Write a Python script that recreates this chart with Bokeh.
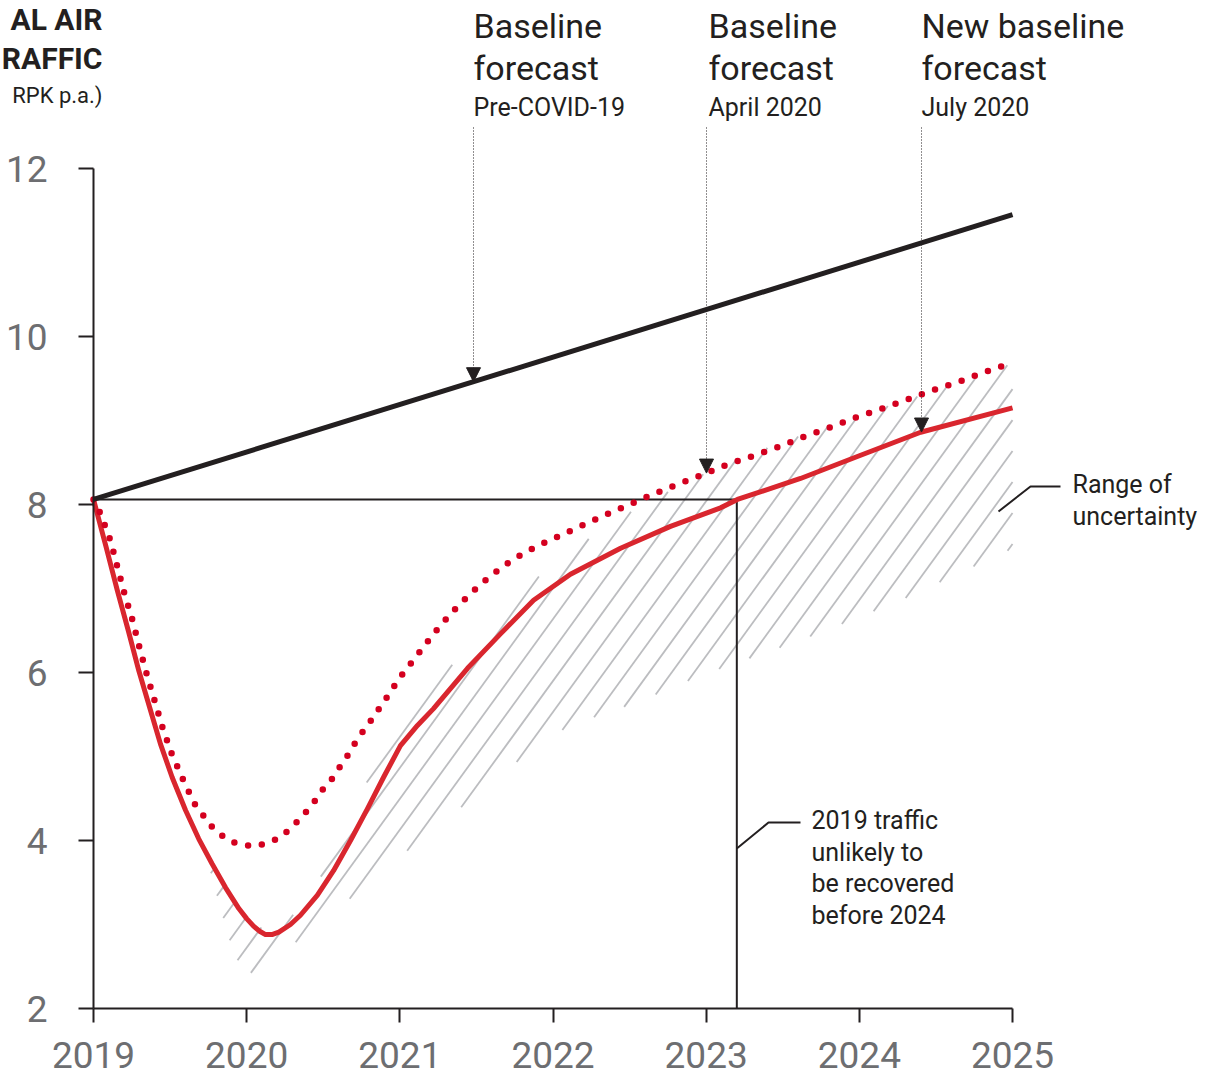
import numpy as np
from bokeh.plotting import figure
from bokeh.models import Label, Arrow, NormalHead, FixedTicker
from bokeh.embed import file_html
from bokeh.resources import INLINE

# ---------------- data ----------------
year_ticks = [2019, 2020, 2021, 2022, 2023, 2024, 2025]
value_ticks = [2, 4, 6, 8, 10, 12]

# Baseline forecast pre-COVID-19 (bn RPK p.a.)
pre_covid_year = [2019.0, 2025.0]
pre_covid_val = [8.06, 11.45]

# Baseline forecast April 2020 (dotted)
april_year = [2019.000, 2019.046, 2019.111, 2019.157, 2019.202, 2019.255, 2019.300,
              2019.346, 2019.398, 2019.450, 2019.509, 2019.581, 2019.659, 2019.712,
              2019.764, 2019.829, 2019.907, 2020.038, 2020.116, 2020.201, 2020.273,
              2020.338, 2020.397, 2020.449, 2020.502, 2020.560, 2020.606, 2020.658,
              2020.704, 2020.756, 2020.808, 2020.906, 2021.004, 2021.115, 2021.220,
              2021.337, 2021.461, 2021.592, 2021.742, 2021.892, 2022.010, 2022.166,
              2022.323, 2022.486, 2022.650, 2022.813, 2022.983, 2023.146, 2023.309,
              2023.479, 2023.642, 2023.812, 2023.981, 2024.145, 2024.314, 2024.478,
              2024.647, 2024.811, 2025.000]
april_val = [8.06, 7.89, 7.57, 7.25, 6.94, 6.62, 6.30,
             5.99, 5.67, 5.35, 5.04, 4.74, 4.44, 4.31,
             4.18, 4.07, 3.98, 3.93, 3.96, 4.02, 4.12,
             4.24, 4.36, 4.48, 4.62, 4.74, 4.87, 5.01,
             5.15, 5.29, 5.42, 5.68, 5.95, 6.21, 6.46,
             6.71, 6.94, 7.15, 7.35, 7.50, 7.60, 7.73,
             7.86, 7.99, 8.12, 8.24, 8.36, 8.48, 8.58,
             8.69, 8.81, 8.92, 9.04, 9.14, 9.25, 9.36,
             9.46, 9.57, 9.69]

# New baseline forecast July 2020 (solid red)
july_year = [2019.000, 2019.083, 2019.155, 2019.227, 2019.296, 2019.372, 2019.437,
             2019.514, 2019.601, 2019.687, 2019.775, 2019.862, 2019.949, 2020.000,
             2020.045, 2020.085, 2020.123, 2020.165, 2020.210, 2020.286, 2020.351,
             2020.462, 2020.567, 2020.678, 2020.789, 2020.893, 2021.004, 2021.115,
             2021.220, 2021.442, 2021.657, 2021.873, 2022.114, 2022.441, 2022.767,
             2023.094, 2023.204, 2023.616, 2024.000, 2024.400, 2025.000]
july_val = [8.06, 7.49, 6.98, 6.50, 6.02, 5.55, 5.15,
            4.75, 4.36, 4.02, 3.72, 3.44, 3.19, 3.07,
            2.98, 2.92, 2.88, 2.88, 2.91, 3.00, 3.11,
            3.35, 3.64, 4.00, 4.38, 4.75, 5.13, 5.37,
            5.57, 6.05, 6.46, 6.86, 7.17, 7.48, 7.74,
            7.96, 8.06, 8.31, 8.58, 8.86, 9.15]

# Range of uncertainty
unc_upper_year = [2019.777, 2019.960, 2020.123, 2020.351, 2020.567, 2020.828, 2021.089,
                  2021.481, 2021.853, 2022.095, 2022.571, 2023.002, 2023.485, 2023.994,
                  2024.497, 2025.0]
unc_upper_val = [3.667, 3.143, 2.929, 3.167, 3.821, 4.869, 5.631,
                 6.345, 7.060, 7.429, 7.988, 8.381, 8.738, 9.060,
                 9.357, 9.68]
unc_lower_year = [2019.764, 2019.881, 2019.979, 2020.136, 2020.384, 2020.645, 2020.906,
                  2021.154, 2021.416, 2021.677, 2021.938, 2022.114, 2022.454, 2022.787,
                  2022.963, 2023.616, 2024.269, 2025.0]
unc_lower_val = [3.619, 2.845, 2.393, 2.488, 2.893, 3.262, 3.667,
                 4.036, 4.417, 4.810, 5.190, 5.369, 5.583, 5.821,
                 5.964, 6.381, 6.857, 7.476]

level_2019 = 8.06
recovery_year = 2023.2

# ---------------- geometry ----------------
W, H = 1208, 1077
PX0, XS = 93.0, 153.17   # canvas px of 2019, px per year
PY0, YS = 1008.0, 84.0   # canvas px of value 2, px per unit


def dx(px):
    return 2019 + (px - PX0) / XS


def dy(py):
    return 2 + (PY0 - py) / YS


INK = "#231f20"
GRAY = "#6d6e71"
RED = "#d9262e"
RED_DOT = "#d4001f"
HATCH = "#bcbdc0"
FONT = "Roboto"

p = figure(width=W, height=H, output_backend="svg", toolbar_location=None,
           x_range=(dx(0), dx(W)), y_range=(dy(H), dy(0)),
           min_border=0, min_border_left=0, min_border_right=0,
           min_border_top=0, min_border_bottom=0)
p.outline_line_color = None
p.grid.visible = False
p.background_fill_color = "white"
p.border_fill_color = "white"

# axes
xa = p.xaxis[0]
xa.fixed_location = 2
xa.bounds = (2019, 2025)
xa.ticker = FixedTicker(ticks=year_ticks)
xa.major_tick_out = 14
xa.major_tick_in = 0
xa.minor_tick_line_color = None
xa.axis_line_width = 2
xa.axis_line_color = INK
xa.major_tick_line_width = 2
xa.major_tick_line_color = INK
xa.major_label_text_font = FONT
xa.major_label_text_font_size = "37px"
xa.major_label_text_color = GRAY
xa.major_label_standoff = 19

ya = p.yaxis[0]
ya.fixed_location = 2019
ya.bounds = (2, 12)
ya.ticker = FixedTicker(ticks=value_ticks)
ya.major_tick_out = 15
ya.major_tick_in = 0
ya.minor_tick_line_color = None
ya.axis_line_width = 2
ya.axis_line_color = INK
ya.major_tick_line_width = 2
ya.major_tick_line_color = INK
ya.major_label_text_font = FONT
ya.major_label_text_font_size = "37px"
ya.major_label_text_color = GRAY
ya.major_label_standoff = 31

# hatch of the range of uncertainty
slope = np.tan(np.radians(54)) * XS / YS
spacing = 22.5 / XS
xs_s = np.linspace(min(unc_lower_year[0], unc_upper_year[0]), 2025.0, 6000)
up = np.interp(xs_s, unc_upper_year, unc_upper_val)
lo = np.interp(xs_s, unc_lower_year, unc_lower_val)
hx, hy = [], []
c = 2025.0
while c > 2015.0:
    yl = 2 + slope * (xs_s - c)
    inside = ((yl >= lo) & (yl <= up)).astype(int)
    edges = np.flatnonzero(np.diff(np.concatenate([[0], inside, [0]])))
    for a, b in zip(edges[::2], edges[1::2]):
        if b - 1 > a:
            hx.append([xs_s[a], xs_s[b - 1]])
            hy.append([yl[a], yl[b - 1]])
    c -= spacing
p.multi_line(hx, hy, line_color=HATCH, line_width=1.8)

# 2019 level and recovery
p.line([2019, recovery_year, recovery_year], [level_2019, level_2019, 2],
       line_color=INK, line_width=2)

# forecasts
p.line(july_year, july_val, line_color=RED, line_width=5, line_join="round")
p.line(april_year, april_val, line_color=RED_DOT, line_width=6.5, line_dash="0 14",
       line_cap="round")
p.line(pre_covid_year, pre_covid_val, line_color=INK, line_width=5)

# arrows
arrow_x = [dx(473), dx(706), dx(921)]
arrow_end = [float(np.interp(arrow_x[0], pre_covid_year, pre_covid_val)),
             float(np.interp(arrow_x[1], april_year, april_val)),
             float(np.interp(arrow_x[2], july_year, july_val))]
for ax_, ay_ in zip(arrow_x, arrow_end):
    p.add_layout(Arrow(end=NormalHead(size=14, fill_color=INK, line_color=INK, line_width=1),
                       x_start=ax_, y_start=dy(127), x_end=ax_, y_end=ay_,
                       line_color=INK, line_width=1, line_dash="1 2"))


def label(px, py, text, size, color=INK, align="left", style="normal"):
    p.add_layout(Label(x=dx(px), y=dy(py), text=text, text_font=FONT,
                       text_font_size=size, text_color=color, text_align=align,
                       text_baseline="middle", text_font_style=style))


# forecast headers
for px, l1, l2, l3 in [(473, "Baseline", "forecast", "Pre-COVID-19"),
                       (708, "Baseline", "forecast", "April 2020"),
                       (921, "New baseline", "forecast", "July 2020")]:
    label(px, 25, l1, "34px")
    label(px, 67, l2, "34px")
    label(px, 107, l3, "25px")

# title (cropped in the reference)
label(102, 19, "AL AIR", "30px", style="bold", align="right")
label(102, 58, "RAFFIC", "30px", style="bold", align="right")
label(102, 95, "RPK p.a.)", "22px", align="right")

# callouts
p.line([recovery_year, dx(768), dx(800)], [dy(848), dy(822), dy(822)],
       line_color=INK, line_width=2)
for i, t in enumerate(["2019 traffic", "unlikely to", "be recovered", "before 2024"]):
    label(811, 820 + i * 31.7, t, "25px")

p.line([dx(998), dx(1030), dx(1060)], [dy(511), dy(486), dy(486)],
       line_color=INK, line_width=2)
label(1072, 484, "Range of", "25px")
label(1072, 516, "uncertainty", "25px")

open("out.html", "w").write(file_html(p, INLINE))
